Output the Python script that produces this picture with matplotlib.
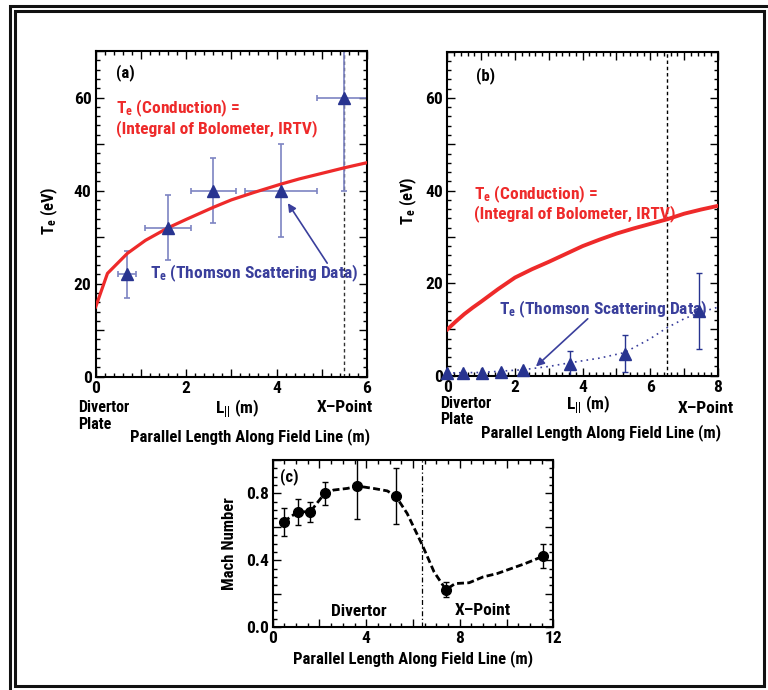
import matplotlib
matplotlib.use("Agg")
import matplotlib.pyplot as plt
from matplotlib.ticker import MultipleLocator, FuncFormatter
from matplotlib.patches import Rectangle

FONT = ['Roboto Condensed', 'PT Sans Narrow', 'Liberation Sans', 'DejaVu Sans']
plt.rcParams['font.family'] = FONT
plt.rcParams['font.weight'] = 'bold'
plt.rcParams['mathtext.default'] = 'regular'

RED = '#ee2a2a'
BLUE = '#3a3f9c'
NAVY = '#283490'
LBLUE = '#7d84c2'

# ---------------- data ----------------
# Panel (a)
a_cond_x = [0, 0.26, 0.7, 1.1, 1.6, 2.0, 2.6, 3.0, 3.5, 4.1, 4.5, 5.0, 5.5, 6.0]
a_cond_y = [15, 22.2, 26.5, 29.3, 32, 33.8, 36.4, 38, 39.6, 41.4, 42.5, 43.7, 44.9, 46]
a_ts_x = [0.7, 1.6, 2.6, 4.1, 5.5]
a_ts_y = [22, 32, 40, 40, 60]
a_ts_xerr = [0.2, 0.5, 0.5, 0.8, 0.6]
a_ts_yerr = [5, 7, 7, 10, 20]
a_xpoint = 5.5

# Panel (b)
b_cond_x = [0, 0.25, 0.5, 0.75, 1.0, 1.5, 2.0, 2.5, 3.0, 3.5, 4.0, 4.5, 5.0, 5.5, 6.0, 6.5, 7.0, 7.5, 8.0]
b_cond_y = [10, 11.7, 13.3, 14.7, 16, 18.7, 21.2, 23.0, 24.6, 26.3, 28, 29.4, 30.7, 31.8, 32.8, 33.8, 35, 35.9, 36.7]
b_ts_x = [0.0, 0.47, 1.02, 1.6, 2.25, 3.63, 5.24, 7.43]
b_ts_y = [0.6, 0.6, 0.6, 0.9, 1.2, 2.6, 4.7, 13.9]
b_ts_yerr = [0, 0, 0, 0, 0, 2.8, 4.0, 8.2]
b_fit_x = [0, 1.0, 2.25, 3.0, 3.63, 4.5, 5.24, 6.0, 6.5, 7.0, 7.43, 8.0]
b_fit_y = [0.6, 0.7, 1.3, 2.0, 2.8, 3.8, 5.0, 8.0, 10.4, 12.3, 13.6, 14.8]
b_xpoint = 6.5

# Panel (c)
c_x = [0.47, 1.07, 1.61, 2.22, 3.62, 5.26, 7.41, 11.57]
c_y = [0.63, 0.69, 0.69, 0.80, 0.844, 0.784, 0.223, 0.424]
c_err = [0.085, 0.078, 0.06, 0.07, 0.2, 0.17, 0.045, 0.072]
c_line_x = [0.47, 1.07, 1.61, 2.22, 2.6, 3.2, 3.62, 4.3, 4.9, 5.26, 5.75, 6.4, 6.9,
            7.41, 7.8, 8.4, 9.0, 9.6, 10.2, 10.8, 11.57]
c_line_y = [0.63, 0.69, 0.69, 0.80, 0.82, 0.83, 0.844, 0.83, 0.815, 0.784, 0.68, 0.49,
            0.33, 0.223, 0.26, 0.265, 0.30, 0.32, 0.35, 0.38, 0.424]
c_xpoint = 6.4

W, H = 768, 690
fig = plt.figure(figsize=(W / 100, H / 100), dpi=100)


def fx(px):
    return px / W


def fy(py):
    return 1 - py / H


def style_axes(ax, xmaj, xmin, ymaj, ymin, xlab_step, ylab_step, yfmt=None):
    ax.xaxis.set_major_locator(MultipleLocator(xmaj))
    ax.xaxis.set_minor_locator(MultipleLocator(xmin))
    ax.yaxis.set_major_locator(MultipleLocator(ymaj))
    ax.yaxis.set_minor_locator(MultipleLocator(ymin))

    def xf(v, p):
        r = v / xlab_step
        return ('%g' % v) if abs(r - round(r)) < 1e-6 else ''

    def yf(v, p):
        r = v / ylab_step
        if abs(r - round(r)) < 1e-6:
            return yfmt % v if yfmt else '%g' % v
        return ''
    ax.xaxis.set_major_formatter(FuncFormatter(xf))
    ax.yaxis.set_major_formatter(FuncFormatter(yf))
    ax.tick_params(which='both', direction='in', top=True, right=True,
                   labelsize=12.5, width=1.0, pad=3)
    ax.tick_params(which='major', length=6)
    ax.tick_params(which='minor', length=3)
    for s in ax.spines.values():
        s.set_linewidth(1.5)
    for lab in ax.get_xticklabels() + ax.get_yticklabels():
        lab.set_fontweight('bold')


TFS = 12.5   # annotation font size
LFS = 12     # label font size

# ---------------- panel (a) ----------------
ax1 = fig.add_axes([fx(95.7), fy(376.7), fx(367 - 95.7), (376.7 - 51) / H])
ax1.set_xlim(0, 6)
ax1.set_ylim(0, 70)
ax1.axvline(a_xpoint, color='#333333', ls=(0, (2.5, 2)), lw=1.0)
ax1.plot(a_cond_x, a_cond_y, color=RED, lw=2.3, zorder=3)
ax1.errorbar(a_ts_x, a_ts_y, xerr=a_ts_xerr, yerr=a_ts_yerr, fmt='none',
             ecolor=LBLUE, elinewidth=1.2, capsize=2.5, capthick=1.2, zorder=2)
ax1.plot(a_ts_x, a_ts_y, ls='none', marker='^', ms=8, color=NAVY, zorder=4)
style_axes(ax1, 1, 0.2, 10, 2, 2, 20)
ax1.set_ylabel('T$_{e}$ (eV)', fontsize=LFS, fontweight='bold')
ax1.yaxis.set_label_coords(-0.132, 0.51)
ax1.text(0.46, 65.3, '(a)', fontsize=LFS, fontweight='bold', va='center')
ax1.text(0.45, 57.7, 'T$_{e}$ (Conduction) =', fontsize=TFS, fontweight='bold',
         color=RED, va='center')
ax1.text(0.45, 53.3, '(Integral of Bolometer, IRTV)', fontsize=TFS,
         fontweight='bold', color=RED, va='center')
ax1.text(1.2, 22.2, 'T$_{e}$ (Thomson Scattering Data)', fontsize=TFS,
         fontweight='bold', color=BLUE, va='center')
ax1.annotate('', xy=(4.25, 37.3), xytext=(5.12, 24.4),
             arrowprops=dict(arrowstyle='-|>', color=BLUE, lw=1.2,
                             mutation_scale=12, shrinkA=0, shrinkB=0))

# ---------------- panel (b) ----------------
ax2 = fig.add_axes([fx(447.3), fy(375.7), fx(718 - 447.3), (375.7 - 51.7) / H])
ax2.set_xlim(0, 8)
ax2.set_ylim(0, 70)
ax2.axvline(b_xpoint, color='black', ls=(0, (2.5, 2)), lw=1.0)
ax2.plot(b_cond_x, b_cond_y, color=RED, lw=2.8, zorder=3)
ax2.plot(b_fit_x, b_fit_y, color=BLUE, ls=(0, (1, 2.5)), lw=1.2, zorder=2)
ax2.errorbar(b_ts_x, b_ts_y, yerr=b_ts_yerr, fmt='none', ecolor=NAVY,
             elinewidth=1.0, capsize=2.5, capthick=1.0, zorder=2)
ax2.plot(b_ts_x, b_ts_y, ls='none', marker='^', ms=8, color=NAVY, zorder=4,
         clip_on=False)
style_axes(ax2, 1, 0.2, 10, 2, 2, 20)
ax2.set_ylabel('T$_{e}$ (eV)', fontsize=LFS, fontweight='bold')
ax2.yaxis.set_label_coords(-0.105, 0.54)
ax2.text(0.84, 64.8, '(b)', fontsize=LFS, fontweight='bold', va='center')
ax2.text(0.79, 39.2, 'T$_{e}$ (Conduction) =', fontsize=TFS, fontweight='bold',
         color=RED, va='center')
ax2.text(0.79, 35.0, '(Integral of Bolometer, IRTV)', fontsize=TFS,
         fontweight='bold', color=RED, va='center')
ax2.text(1.53, 14.4, 'T$_{e}$ (Thomson Scattering Data)', fontsize=TFS,
         fontweight='bold', color=BLUE, va='center')
ax2.annotate('', xy=(2.62, 2.0), xytext=(4.15, 12.3),
             arrowprops=dict(arrowstyle='-|>', color=BLUE, lw=1.2,
                             mutation_scale=12, shrinkA=0, shrinkB=0))

# ---------------- panel (c) ----------------
ax3 = fig.add_axes([fx(272.7), fy(627), fx(553.3 - 272.7), (627 - 460) / H])
ax3.set_xlim(0, 12)
ax3.set_ylim(0, 1.0)
ax3.axvline(c_xpoint, color='black', ls=(0, (4, 2, 1, 2)), lw=0.9)
ax3.plot(c_line_x, c_line_y, color='black', ls=(0, (2.5, 1.2)), lw=2.0, zorder=2)
ax3.errorbar(c_x, c_y, yerr=c_err, fmt='none', ecolor='black', elinewidth=1.0,
             capsize=2.5, capthick=1.0, zorder=3)
ax3.plot(c_x, c_y, ls='none', marker='o', ms=7, color='black', zorder=4)
style_axes(ax3, 2, 0.5, 0.2, 0.05, 4, 0.4, yfmt='%.1f')
ax3.set_ylabel('Mach Number', fontsize=LFS, fontweight='bold')
ax3.yaxis.set_label_coords(-0.128, 0.5)
ax3.set_xlabel('Parallel Length Along Field Line (m)', fontsize=LFS,
               fontweight='bold', labelpad=3)
ax3.text(0.31, 0.9, '(c)', fontsize=LFS, fontweight='bold', va='center')
ax3.text(3.69, 0.092, 'Divertor', fontsize=TFS, fontweight='bold',
         ha='center', va='center')
ax3.text(9.0, 0.096, 'X\u2013Point', fontsize=TFS, fontweight='bold',
         ha='center', va='center')

# ---------------- labels under (a) and (b) ----------------
fig.text(fx(78), fy(407), 'Divertor', fontsize=11.5, fontweight='bold', va='center')
fig.text(fx(78), fy(424), 'Plate', fontsize=11.5, fontweight='bold', va='center')
fig.text(fx(215), fy(409), 'L$_{||}$ (m)', fontsize=TFS, fontweight='bold', va='center')
fig.text(fx(373), fy(408), 'X\u2013Point', fontsize=TFS, fontweight='bold',
         va='center', ha='right')
fig.text(fx(130), fy(437), 'Parallel Length Along Field Line (m)', fontsize=LFS,
         fontweight='bold', va='center')

fig.text(fx(440), fy(403), 'Divertor', fontsize=11.5, fontweight='bold', va='center')
fig.text(fx(440), fy(419), 'Plate', fontsize=11.5, fontweight='bold', va='center')
fig.text(fx(566), fy(405), 'L$_{||}$ (m)', fontsize=TFS, fontweight='bold', va='center')
fig.text(fx(734), fy(409), 'X\u2013Point', fontsize=TFS, fontweight='bold',
         va='center', ha='right')
fig.text(fx(481), fy(433), 'Parallel Length Along Field Line (m)', fontsize=LFS,
         fontweight='bold', va='center')

# ---------------- double frame ----------------
fig.add_artist(Rectangle((fx(10), fy(700)), fx(780), (700 - 6) / H, fill=False,
                         ec='#111111', lw=2.2, transform=fig.transFigure))
fig.add_artist(Rectangle((fx(15), fy(686)), fx(764 - 15), (686 - 11) / H, fill=False,
                         ec='#111111', lw=2.2, transform=fig.transFigure))

fig.savefig('out.png', dpi=100)
